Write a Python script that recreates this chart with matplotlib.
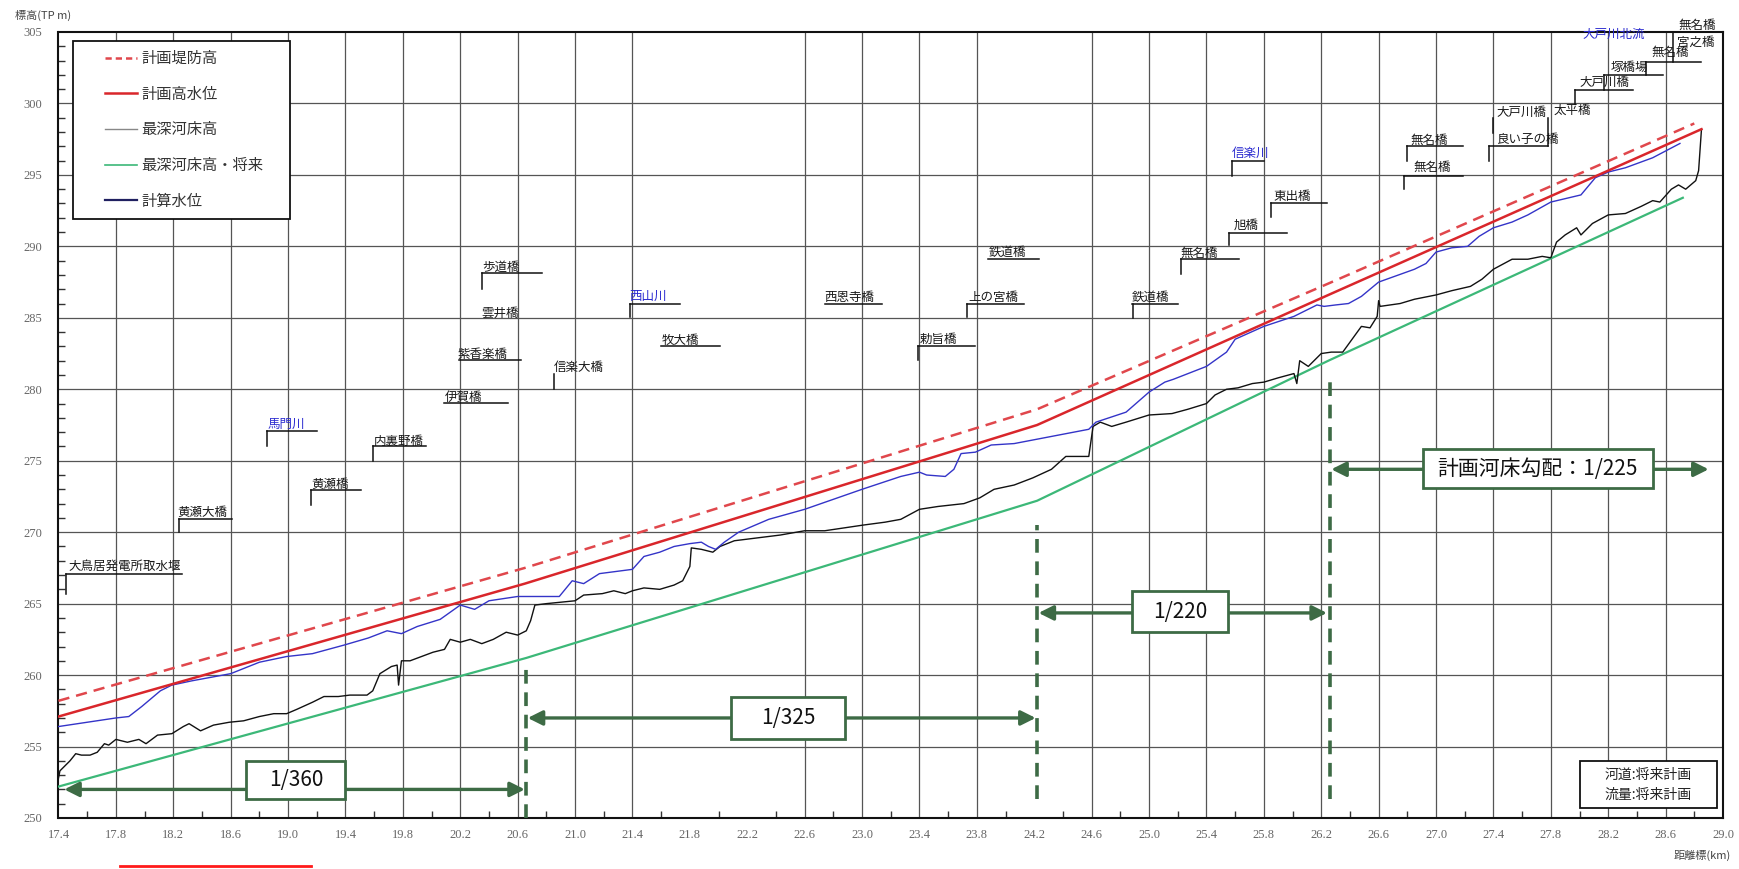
import numpy as np
import matplotlib
matplotlib.use('Agg')
import matplotlib.pyplot as plt
from matplotlib.lines import Line2D
from matplotlib.patches import Rectangle
from matplotlib.legend_handler import HandlerLine2D

plt.rcParams['font.family'] = ['Noto Sans CJK JP', 'DejaVu Sans']

# ---------------- data ----------------
levee_km = [17.40, 20.65, 24.22, 26.25, 28.80]
levee_el = [258.2, 267.5, 278.6, 287.4, 298.6]

hwl_km = [17.40, 20.65, 24.22, 26.25, 28.85]
hwl_el = [257.1, 266.4, 277.5, 286.6, 298.2]

future_km = [17.40, 20.66, 24.22, 26.25, 28.72]
future_el = [252.2, 261.2, 272.2, 282.0, 293.4]

bed_km = [17.40, 17.41, 17.48, 17.52, 17.56, 17.62, 17.67, 17.72, 17.75, 17.80, 17.88, 17.96, 18.01, 18.09,
          18.19, 18.27, 18.31, 18.39, 18.48, 18.59, 18.69, 18.80, 18.90, 18.99, 19.06, 19.17, 19.25, 19.35,
          19.43, 19.55, 19.59, 19.64, 19.72, 19.76, 19.77, 19.79, 19.85, 19.93, 20.01, 20.09, 20.13, 20.20,
          20.27, 20.35, 20.43, 20.52, 20.60, 20.66, 20.69, 20.72, 20.80, 20.90, 21.00, 21.06, 21.19, 21.27,
          21.35, 21.40, 21.48, 21.59, 21.69, 21.75, 21.80, 21.81, 21.88, 21.96, 22.01, 22.11, 22.27, 22.43,
          22.60, 22.74, 23.01, 23.16, 23.27, 23.40, 23.53, 23.71, 23.82, 23.92, 24.06, 24.19, 24.32, 24.42,
          24.58, 24.61, 24.66, 24.74, 24.84, 25.00, 25.16, 25.27, 25.40, 25.46, 25.54, 25.62, 25.72, 25.80,
          25.90, 26.01, 26.03, 26.05, 26.11, 26.20, 26.27, 26.35, 26.43, 26.48, 26.54, 26.59, 26.60, 26.61,
          26.75, 26.85, 27.00, 27.11, 27.24, 27.32, 27.40, 27.53, 27.64, 27.74, 27.80, 27.84, 27.90, 27.98,
          28.01, 28.09, 28.20, 28.32, 28.43, 28.51, 28.56, 28.64, 28.69, 28.74, 28.81, 28.83, 28.85]
bed_el = [252.8, 253.3, 254.0, 254.5, 254.4, 254.4, 254.6, 255.2, 255.1, 255.5, 255.3, 255.5, 255.2, 255.8,
          255.9, 256.4, 256.6, 256.1, 256.5, 256.7, 256.8, 257.1, 257.3, 257.3, 257.6, 258.1, 258.5, 258.5,
          258.6, 258.6, 258.9, 260.1, 260.6, 260.7, 259.3, 261.0, 261.0, 261.3, 261.6, 261.8, 262.5, 262.3,
          262.5, 262.2, 262.5, 263.0, 262.8, 263.1, 263.8, 264.9, 265.0, 265.1, 265.2, 265.6, 265.7, 265.9,
          265.7, 265.9, 266.1, 266.0, 266.3, 266.6, 267.6, 268.9, 268.8, 268.6, 269.0, 269.4, 269.6, 269.8,
          270.1, 270.1, 270.5, 270.7, 270.9, 271.6, 271.8, 272.0, 272.4, 273.0, 273.3, 273.8, 274.4, 275.3,
          275.3, 277.4, 277.7, 277.4, 277.7, 278.2, 278.3, 278.6, 279.0, 279.6, 280.0, 280.1, 280.4, 280.5,
          280.8, 281.1, 280.4, 282.0, 281.6, 282.5, 282.6, 282.6, 283.7, 284.4, 284.3, 285.1, 286.2, 285.8,
          286.0, 286.3, 286.6, 286.9, 287.2, 287.7, 288.4, 289.1, 289.1, 289.3, 289.2, 290.3, 290.8, 291.3,
          290.8, 291.6, 292.2, 292.3, 292.8, 293.2, 293.1, 294.0, 294.3, 294.0, 294.6, 295.3, 298.2]

wl_km = [17.40, 17.80, 17.89, 17.98, 18.11, 18.19, 18.33, 18.60, 18.80, 18.99, 19.17, 19.39, 19.56, 19.69,
         19.79, 19.90, 20.06, 20.20, 20.30, 20.40, 20.60, 20.89, 20.98, 21.06, 21.17, 21.40, 21.48, 21.59,
         21.69, 21.80, 21.88, 21.93, 21.98, 22.04, 22.14, 22.35, 22.60, 23.00, 23.27, 23.40, 23.45, 23.58,
         23.64, 23.69, 23.79, 23.90, 24.06, 24.32, 24.58, 24.63, 24.84, 25.00, 25.11, 25.17, 25.40, 25.54,
         25.60, 25.80, 26.01, 26.17, 26.22, 26.30, 26.39, 26.48, 26.60, 26.85, 26.93, 27.00, 27.11, 27.22,
         27.30, 27.40, 27.53, 27.64, 27.80, 28.01, 28.11, 28.20, 28.32, 28.51, 28.70]
wl_el = [256.4, 257.0, 257.1, 257.8, 258.9, 259.3, 259.6, 260.1, 260.9, 261.3, 261.5, 262.1, 262.6, 263.1,
         262.9, 263.4, 263.9, 264.9, 264.6, 265.2, 265.5, 265.5, 266.6, 266.4, 267.1, 267.4, 268.3, 268.6,
         269.0, 269.2, 269.3, 269.0, 268.8, 269.3, 270.0, 270.9, 271.6, 273.0, 273.9, 274.2, 274.0, 273.9,
         274.4, 275.5, 275.6, 276.1, 276.2, 276.7, 277.2, 277.7, 278.4, 279.8, 280.5, 280.7, 281.6, 282.6,
         283.5, 284.4, 285.1, 285.9, 285.8, 285.9, 286.0, 286.5, 287.5, 288.4, 288.8, 289.6, 289.9, 290.0,
         290.7, 291.3, 291.7, 292.2, 293.1, 293.6, 294.8, 295.2, 295.5, 296.2, 297.2]

series_names = ['計画堤防高', '計画高水位', '最深河床高', '最深河床高・将来', '計算水位']

x_ticks = [17.4, 17.8, 18.2, 18.6, 19.0, 19.4, 19.8, 20.2, 20.6, 21.0, 21.4, 21.8, 22.2, 22.6, 23.0,
           23.4, 23.8, 24.2, 24.6, 25.0, 25.4, 25.8, 26.2, 26.6, 27.0, 27.4, 27.8, 28.2, 28.6, 29.0]
x_tick_labels = ['%.1f' % v for v in x_ticks]
x_grid_skip = [21.8, 22.2, 24.2]
y_ticks = [250, 255, 260, 265, 270, 275, 280, 285, 290, 295, 300, 305]

# bridge / tributary labels: (text, x, y_center, color)
labels = [
    ('大鳥居発電所取水堰', 17.47, 267.6, 'k'),
    ('黄瀬大橋', 18.23, 271.35, 'k'),
    ('黄瀬橋', 19.16, 273.35, 'k'),
    ('内裏野橋', 19.60, 276.35, 'k'),
    ('馬門川', 18.86, 277.55, 'b'),
    ('伊賀橋', 20.09, 279.45, 'k'),
    ('紫香楽橋', 20.18, 282.45, 'k'),
    ('雲井橋', 20.35, 285.35, 'k'),
    ('歩道橋', 20.35, 288.55, 'k'),
    ('信楽大橋', 20.85, 281.55, 'k'),
    ('西山川', 21.38, 286.5, 'b'),
    ('牧大橋', 21.60, 283.45, 'k'),
    ('西恩寺橋', 22.74, 286.4, 'k'),
    ('上の宮橋', 23.74, 286.4, 'k'),
    ('勅旨橋', 23.40, 283.5, 'k'),
    ('鉄道橋', 23.88, 289.55, 'k'),
    ('鉄道橋', 24.88, 286.4, 'k'),
    ('無名橋', 25.22, 289.5, 'k'),
    ('旭橋', 25.59, 291.5, 'k'),
    ('東出橋', 25.87, 293.5, 'k'),
    ('信楽川', 25.58, 296.5, 'b'),
    ('無名橋', 26.82, 297.45, 'k'),
    ('無名橋', 26.84, 295.55, 'k'),
    ('良い子の橋', 27.42, 297.5, 'k'),
    ('大戸川橋', 27.42, 299.4, 'k'),
    ('太平橋', 27.82, 299.5, 'k'),
    ('大戸川橋', 28.00, 301.5, 'k'),
    ('塚橋場', 28.22, 302.5, 'k'),
    ('無名橋', 28.50, 303.55, 'k'),
    ('宮之橋', 28.68, 304.3, 'k'),
    ('無名橋', 28.69, 305.45, 'k'),
    ('大戸川北流', 28.02, 304.85, 'b'),
]
# leader lines: (x0, x1, y0, y1)
leaders = [
    (17.45, 18.26, 267.05, 267.05), (17.45, 17.45, 267.05, 265.65),
    (18.24, 18.61, 270.95, 270.95), (18.24, 18.24, 270.95, 270.0),
    (19.16, 19.51, 272.95, 272.95), (19.16, 19.16, 272.95, 271.9),
    (19.59, 19.96, 276.0, 276.0), (19.59, 19.59, 276.0, 275.0),
    (18.85, 19.20, 277.1, 277.1), (18.85, 18.85, 277.1, 276.0),
    (20.09, 20.53, 279.05, 279.05),
    (20.19, 20.62, 282.05, 282.05),
    (20.35, 20.77, 288.15, 288.15), (20.35, 20.35, 288.15, 287.0),
    (20.85, 20.85, 281.1, 280.0),
    (21.38, 21.73, 286.0, 286.0), (21.38, 21.38, 286.0, 285.05),
    (21.60, 22.01, 283.0, 283.0),
    (22.74, 23.14, 286.0, 286.0),
    (23.73, 24.13, 286.0, 286.0), (23.73, 23.73, 286.0, 285.05),
    (23.39, 23.79, 283.0, 283.0), (23.39, 23.39, 283.0, 282.05),
    (23.88, 24.23, 289.1, 289.1),
    (24.88, 25.20, 286.0, 286.0), (24.89, 24.89, 286.0, 285.0),
    (25.22, 25.63, 289.1, 289.1), (25.22, 25.22, 289.1, 288.1),
    (25.56, 25.96, 290.95, 290.95), (25.56, 25.56, 290.95, 290.1),
    (25.85, 26.24, 293.0, 293.0), (25.85, 25.85, 293.0, 292.05),
    (25.58, 25.80, 296.0, 296.0), (25.58, 25.58, 296.0, 294.95),
    (26.80, 27.19, 297.0, 297.0), (26.80, 26.80, 297.0, 296.0),
    (26.78, 27.19, 294.95, 294.95), (26.78, 26.78, 294.95, 294.0),
    (27.37, 27.78, 297.0, 297.0), (27.37, 27.37, 297.0, 296.0),
    (27.40, 27.40, 298.95, 297.95), (27.78, 27.78, 298.95, 297.0),
    (27.97, 28.37, 300.93, 300.93), (27.97, 27.97, 300.93, 299.98),
    (28.17, 28.58, 302.0, 302.0), (28.17, 28.17, 302.0, 300.93),
    (28.46, 28.85, 302.9, 302.9), (28.46, 28.46, 302.9, 302.0),
    (28.65, 28.65, 304.9, 302.9),
    (28.65, 29.00, 305.0, 305.0),
]

# gradient annotations: (text, x_start, x_end, y, box_x0, box_x1, box_y0, box_y1)
gradients = [
    ('1/360', 17.44, 20.65, 252.0, 18.71, 19.40, 251.3, 254.0),
    ('1/325', 20.67, 24.21, 257.0, 22.09, 22.88, 255.5, 258.5),
    ('1/220', 24.23, 26.24, 264.35, 24.88, 25.55, 263.0, 265.85),
    ('計画河床勾配：1/225', 26.27, 28.90, 274.4, 26.91, 28.51, 273.1, 275.8),
]
# dashed break lines: (x, y_bottom, y_top)
breaks = [(20.66, 250.0, 260.6), (24.22, 251.3, 270.5), (26.26, 251.3, 281.1)]

# ---------------- figure ----------------
W, H = 1740, 869
fig = plt.figure(figsize=(W / 100, H / 100), dpi=100)
ax = fig.add_axes([58.5 / W, 1 - 818 / H, (1723 - 58.5) / W, (818 - 32) / H])
ax.set_xlim(17.4, 29.0)
ax.set_ylim(250, 305)

grid_c = '#555555'
for xv in x_ticks[1:-1]:
    if xv not in x_grid_skip:
        ax.axvline(xv, color=grid_c, lw=0.9, zorder=1)
for yv in y_ticks[1:-1]:
    ax.axhline(yv, color=grid_c, lw=0.9, zorder=1)

ax.set_xticks(x_ticks, x_tick_labels)
ax.set_yticks(y_ticks, [str(v) for v in y_ticks])
ax.set_xticks([v + 0.2 for v in x_ticks[:-1] if round(v + 0.2, 1) not in x_grid_skip], minor=True)
ax.set_yticks([v for v in range(251, 305) if v % 5], minor=True)
ax.tick_params(which='major', length=0, labelsize=9, labelcolor='#666666')
ax.tick_params(axis='x', which='major', pad=8)
ax.tick_params(axis='y', which='major', pad=12)
ax.tick_params(which='minor', direction='in', length=5, width=1, color='#333333')
for lab in ax.get_xticklabels() + ax.get_yticklabels():
    lab.set_fontfamily(['Liberation Serif', 'DejaVu Serif'])
for s in ax.spines.values():
    s.set_linewidth(1.5)
    s.set_color('#111111')

c_dash = '#e0474c'
c_red = '#d9262b'
c_green = '#3cb878'
c_blue = '#3434c8'
ax.plot(future_km, future_el, color=c_green, lw=1.6, zorder=3, label=series_names[3])
ax.plot(bed_km, bed_el, color='#111111', lw=1.0, zorder=4, label=series_names[2])
ax.plot(wl_km, wl_el, color=c_blue, lw=1.0, zorder=5, label=series_names[4])
ax.plot(hwl_km, hwl_el, color=c_red, lw=1.8, zorder=6, label=series_names[1])
ax.plot(levee_km, levee_el, color=c_dash, lw=1.8, ls=(0, (4.5, 2.8)), zorder=6, label=series_names[0])

# labels and leaders
for name, x, y, c in labels:
    ax.text(x, y, name, fontsize=9, color='#2b2bd0' if c == 'b' else '#1a1a1a',
            ha='left', va='center', zorder=8, clip_on=False)
for x0, x1, y0, y1 in leaders:
    ax.plot([x0, x1], [y0, y1], color='#111111', lw=1.1, zorder=8, clip_on=False)

# gradient annotations
g_c = '#3d6b45'
for xb, yb0, yb1 in breaks:
    ax.plot([xb, xb], [yb0, yb1], color=g_c, lw=2.6, ls=(0, (3.8, 2.4)), zorder=7)
for text, xs, xe, y, bx0, bx1, by0, by1 in gradients:
    ax.annotate('', xy=(xe, y), xytext=(xs, y),
                arrowprops=dict(arrowstyle='<|-|>', color=g_c, lw=2.4, mutation_scale=22,
                                shrinkA=0, shrinkB=0), zorder=7)
    ax.add_patch(Rectangle((bx0, by0), bx1 - bx0, by1 - by0, facecolor='white',
                           edgecolor=g_c, lw=2.0, zorder=9))
    fam = ['Liberation Sans Narrow', 'Noto Sans CJK JP', 'DejaVu Sans'] if text.startswith('1') \
        else ['Noto Sans CJK JP', 'DejaVu Sans']
    ax.text((bx0 + bx1) / 2, (by0 + by1) / 2, text, ha='center', va='center', fontsize=15,
            family=fam, color='#111111', zorder=10)

# note box
ax.add_patch(Rectangle((28.0, 250.7), 0.96, 3.3, facecolor='white', edgecolor='#111111',
                       lw=1.3, zorder=9))
ax.text(28.48, 253.05, '河道:将来計画', ha='center', va='center', fontsize=10, color='#222222', zorder=10)
ax.text(28.48, 251.65, '流量:将来計画', ha='center', va='center', fontsize=10, color='#222222', zorder=10)


# legend
class ShiftedLine(HandlerLine2D):
    def get_xdata(self, legend, xdescent, ydescent, width, height, fontsize):
        xd, xm = super().get_xdata(legend, xdescent, ydescent, width, height, fontsize)
        xd = np.asarray(xd, dtype=float)
        start = xd[0] + 0.42 * (xd[-1] - xd[0])
        return np.linspace(start, xd[-1], len(xd)), xm


leg_handles = [Line2D([], [], color=c_dash, lw=1.8, ls=(0, (2.5, 1.6))),
               Line2D([], [], color=c_red, lw=1.8),
               Line2D([], [], color='#888888', lw=1.0),
               Line2D([], [], color=c_green, lw=1.2),
               Line2D([], [], color='#202060', lw=1.6)]
leg = ax.legend(leg_handles, series_names, loc='upper left',
                bbox_to_anchor=(0.0087, 0.9885, 0.1304, 0.0), mode='expand',
                fontsize=11, frameon=True, fancybox=False, edgecolor='#111111', framealpha=1,
                borderpad=0.6, labelspacing=1.22, handlelength=3.6, handletextpad=0.3,
                borderaxespad=0, handler_map={Line2D: ShiftedLine()})
leg.get_frame().set_linewidth(1.3)
leg.set_zorder(11)
for t in leg.get_texts():
    t.set_color('#333333')

fig.text(15 / W, 1 - 15 / H, '標高(TP m)', fontsize=8, color='#444444', ha='left', va='center')
fig.text(1731 / W, 1 - 855 / H, '距離標(km)', fontsize=8, color='#444444', ha='right', va='center')
fig.add_artist(Line2D([120 / W, 311 / W], [1 - 866 / H, 1 - 866 / H], color='#ff1a1a', lw=2))

fig.savefig('out.png', dpi=100, facecolor='white')
